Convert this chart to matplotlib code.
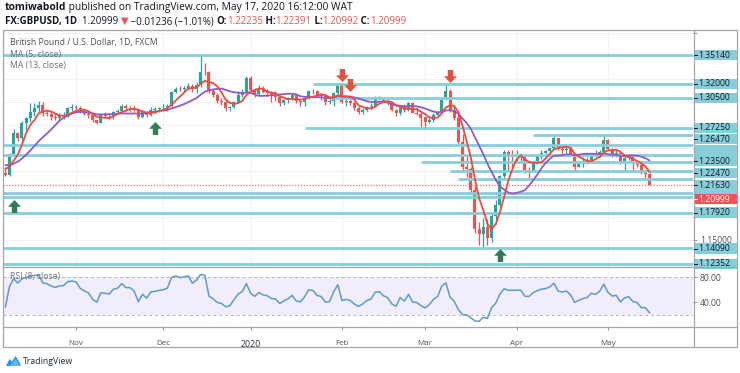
import numpy as np
import matplotlib
matplotlib.use("Agg")
import matplotlib.pyplot as plt
from matplotlib.path import Path
from matplotlib.patches import Rectangle, Polygon
from matplotlib.ticker import FuncFormatter

plt.rcParams['font.family'] = ['Open Sans', 'DejaVu Sans']

# ---------------- data ----------------
opens = [1.2230, 1.2212, 1.2440, 1.2667, 1.2612, 1.2770, 1.2825, 1.2890, 1.2935, 1.2970,
         1.2880, 1.2870, 1.2845, 1.2830, 1.2855, 1.2860, 1.2935, 1.2945, 1.2940, 1.2895,
         1.2875, 1.2860, 1.2805, 1.2775, 1.2860, 1.2855, 1.2850, 1.2895, 1.2905, 1.2960,
         1.2935, 1.2935, 1.2915, 1.2835, 1.2895, 1.2860, 1.2920, 1.2925, 1.2935, 1.2940,
         1.2955, 1.3115, 1.3150, 1.3140, 1.3160, 1.3180, 1.3140, 1.3190, 1.3335, 1.3325,
         1.3120, 1.3080, 1.3015, 1.3000, 1.2935, 1.2945, 1.3005, 1.3075, 1.3110, 1.3260,
         1.3135, 1.3085, 1.3150, 1.3115, 1.3105, 1.3065, 1.3060, 1.2995, 1.3020, 1.3040,
         1.3075, 1.3010, 1.3000, 1.3045, 1.3125, 1.3120, 1.3075, 1.3065, 1.3005, 1.3010,
         1.3100, 1.3205, 1.3000, 1.3015, 1.2995, 1.2935, 1.2890, 1.2915, 1.2950, 1.2965,
         1.3045, 1.3050, 1.3010, 1.2990, 1.2915, 1.2880, 1.2960, 1.2915, 1.2990, 1.2885,
         1.2875, 1.2835, 1.2780, 1.2810, 1.2860, 1.2890, 1.3045, 1.3120, 1.2915, 1.2830,
         1.2570, 1.2300, 1.2270, 1.2045, 1.1620, 1.1560, 1.1640, 1.1520, 1.1760, 1.1885,
         1.2200, 1.2460, 1.2410, 1.2405, 1.2410, 1.2415, 1.2265, 1.2255, 1.2355, 1.2410,
         1.2450, 1.2465, 1.2505, 1.2610, 1.2490, 1.2475, 1.2495, 1.2440, 1.2300, 1.2330,
         1.2355, 1.2370, 1.2430, 1.2415, 1.2460, 1.2590, 1.2490, 1.2435, 1.2445, 1.2340,
         1.2395, 1.2410, 1.2335, 1.2320, 1.2225, 1.22235]
highs = [1.2290, 1.2452, 1.2707, 1.2672, 1.2800, 1.2840, 1.2988, 1.2990, 1.3012, 1.3000,
         1.2920, 1.2900, 1.2880, 1.2880, 1.2895, 1.2950, 1.2976, 1.2975, 1.2955, 1.2930,
         1.2895, 1.2890, 1.2820, 1.2870, 1.2895, 1.2875, 1.2905, 1.2930, 1.2985, 1.2980,
         1.2965, 1.2975, 1.2935, 1.2900, 1.2905, 1.2945, 1.2945, 1.2950, 1.2985, 1.2980,
         1.3125, 1.3165, 1.3180, 1.3175, 1.3215, 1.3200, 1.3220, 1.3514, 1.3425, 1.3340,
         1.3145, 1.3105, 1.3050, 1.3020, 1.2965, 1.3010, 1.3120, 1.3145, 1.3285, 1.3285,
         1.3155, 1.3185, 1.3180, 1.3145, 1.3120, 1.3120, 1.3070, 1.3040, 1.3060, 1.3090,
         1.3090, 1.3025, 1.3055, 1.3135, 1.3150, 1.3130, 1.3100, 1.3075, 1.3050, 1.3110,
         1.3215, 1.3210, 1.3040, 1.3050, 1.3010, 1.2955, 1.2935, 1.2965, 1.2990, 1.3070,
         1.3070, 1.3060, 1.3020, 1.3000, 1.2930, 1.2975, 1.2980, 1.3005, 1.3005, 1.2950,
         1.2890, 1.2845, 1.2855, 1.2880, 1.2910, 1.3055, 1.3200, 1.3140, 1.2965, 1.2880,
         1.2650, 1.2420, 1.2300, 1.2090, 1.1700, 1.1740, 1.1730, 1.1790, 1.1940, 1.2210,
         1.2485, 1.2475, 1.2485, 1.2485, 1.2450, 1.2425, 1.2300, 1.2365, 1.2425, 1.2485,
         1.2480, 1.2515, 1.2647, 1.2615, 1.2530, 1.2520, 1.2510, 1.2445, 1.2360, 1.2405,
         1.2405, 1.2445, 1.2475, 1.2480, 1.2645, 1.2595, 1.2500, 1.2480, 1.2450, 1.2410,
         1.2430, 1.2415, 1.2375, 1.2345, 1.2265, 1.22391]
lows = [1.2196, 1.2200, 1.2415, 1.2580, 1.2584, 1.2700, 1.2780, 1.2850, 1.2880, 1.2850,
        1.2850, 1.2810, 1.2810, 1.2805, 1.2820, 1.2840, 1.2900, 1.2910, 1.2880, 1.2860,
        1.2830, 1.2790, 1.2765, 1.2770, 1.2835, 1.2815, 1.2820, 1.2870, 1.2890, 1.2910,
        1.2900, 1.2900, 1.2820, 1.2830, 1.2840, 1.2850, 1.2900, 1.2895, 1.2900, 1.2905,
        1.2950, 1.3100, 1.3120, 1.3120, 1.3145, 1.3110, 1.3100, 1.3170, 1.3300, 1.3105,
        1.3060, 1.2990, 1.2970, 1.2905, 1.2905, 1.2935, 1.2990, 1.3060, 1.3100, 1.3115,
        1.3055, 1.3075, 1.3100, 1.3070, 1.3000, 1.3010, 1.2960, 1.2975, 1.2995, 1.3020,
        1.2990, 1.2965, 1.2960, 1.3040, 1.3085, 1.3060, 1.3030, 1.2975, 1.2985, 1.2960,
        1.3080, 1.2990, 1.2960, 1.2975, 1.2920, 1.2870, 1.2870, 1.2900, 1.2930, 1.2950,
        1.3020, 1.3000, 1.2970, 1.2900, 1.2850, 1.2865, 1.2890, 1.2905, 1.2880, 1.2860,
        1.2725, 1.2735, 1.2770, 1.2790, 1.2840, 1.2880, 1.3030, 1.2895, 1.2810, 1.2520,
        1.2260, 1.2190, 1.2000, 1.1580, 1.1450, 1.1409, 1.1450, 1.1480, 1.1670, 1.1860,
        1.2160, 1.2240, 1.2290, 1.2345, 1.2345, 1.2235, 1.2165, 1.2240, 1.2330, 1.2380,
        1.2420, 1.2440, 1.2500, 1.2480, 1.2420, 1.2440, 1.2425, 1.2245, 1.2290, 1.2300,
        1.2330, 1.2355, 1.2400, 1.2405, 1.2445, 1.2475, 1.2400, 1.2405, 1.2325, 1.2265,
        1.2375, 1.2265, 1.2295, 1.2215, 1.2165, 1.20992]
closes = [1.2212, 1.2440, 1.2667, 1.2612, 1.2770, 1.2825, 1.2890, 1.2935, 1.2970, 1.2880,
          1.2870, 1.2845, 1.2830, 1.2855, 1.2860, 1.2935, 1.2945, 1.2940, 1.2895, 1.2875,
          1.2860, 1.2805, 1.2775, 1.2860, 1.2855, 1.2850, 1.2895, 1.2905, 1.2960, 1.2935,
          1.2935, 1.2915, 1.2835, 1.2895, 1.2860, 1.2920, 1.2925, 1.2935, 1.2940, 1.2955,
          1.3115, 1.3150, 1.3140, 1.3160, 1.3180, 1.3140, 1.3190, 1.3330, 1.3325, 1.3120,
          1.3080, 1.3015, 1.3000, 1.2935, 1.2945, 1.3005, 1.3075, 1.3110, 1.3260, 1.3135,
          1.3085, 1.3150, 1.3115, 1.3105, 1.3065, 1.3060, 1.2995, 1.3020, 1.3040, 1.3075,
          1.3010, 1.3000, 1.3045, 1.3125, 1.3120, 1.3075, 1.3065, 1.3005, 1.3010, 1.3100,
          1.3205, 1.3000, 1.3015, 1.2995, 1.2935, 1.2890, 1.2915, 1.2950, 1.2965, 1.3045,
          1.3050, 1.3010, 1.2990, 1.2915, 1.2880, 1.2960, 1.2915, 1.2990, 1.2885, 1.2875,
          1.2825, 1.2780, 1.2810, 1.2860, 1.2890, 1.3045, 1.3120, 1.2915, 1.2830, 1.2570,
          1.2290, 1.2270, 1.2040, 1.1620, 1.1560, 1.1640, 1.1520, 1.1760, 1.1885, 1.2200,
          1.2460, 1.2410, 1.2405, 1.2410, 1.2415, 1.2265, 1.2255, 1.2355, 1.2410, 1.2450,
          1.2465, 1.2505, 1.2610, 1.2490, 1.2475, 1.2495, 1.2440, 1.2300, 1.2330, 1.2355,
          1.2370, 1.2430, 1.2415, 1.2460, 1.2590, 1.2490, 1.2435, 1.2445, 1.2340, 1.2395,
          1.2410, 1.2335, 1.2320, 1.2225, 1.2224, 1.20999]
# closes before the first visible bar (needed for MA / RSI warm-up)
warmup_closes = [1.2335, 1.2335, 1.2500, 1.2410, 1.2495, 1.2475, 1.2500, 1.2475, 1.2435, 1.2470,
                 1.2320, 1.2335, 1.2290, 1.2290, 1.2290, 1.2300, 1.2330, 1.2330, 1.2290, 1.2210]

month_labels = ["Nov", "Dec", "2020", "Feb", "Mar", "Apr", "May"]
month_bars = [17, 38, 59, 81, 101, 123, 145]

level_prices = [1.35140, 1.32000, 1.30500, 1.27250, 1.26470, 1.25350, 1.24260,
                1.23500, 1.22470, 1.21630, 1.20150, 1.19650, 1.17920, 1.14090, 1.12352]
level_start_bars = [None, 74, 78, 72, 127, None, None, 100, 107, 109, None, None, None, None, None]
level_labels = ["1.35140", "1.32000", "1.30500", "1.27250", "1.26470", "", "",
                "1.23500", "1.22470", "1.21630", "", "", "1.17920", "1.14090", "1.12352"]

down_arrow_bars = [81, 83, 107]
down_arrow_prices = [1.3292, 1.3183, 1.3287]
up_arrow_bars = [2, 36, 119]
up_arrow_prices = [1.1865, 1.2725, 1.1337]

last_price = 1.20999
ma_fast, ma_slow, rsi_len = 5, 13, 8

# ---------------- layout (pixels) ----------------
W, H = 740, 373
PANE_L, PANE_R = 3, 693
MAIN_T, MAIN_B = 29.5, 266.5
RSI_T, RSI_B = 267.0, 326.5
FRAME_B, FRAME_R = 347.0, 737.0
# displayed y (px) of the price-axis label boxes, same order as level_prices
label_px = [55, 84, 98, 128, 139, 150, 155, 161, 173, 185, 192, 197, 212.5, 248.5, 264]
last_label_px = 199

GREEN = '#26a69a'
RED = '#ef5350'
LEVEL = '#86cfda'
TEXT = '#131722'
GRID = '#f0f3fa'


def fx(px):
    return px / W


def fy(py):
    return 1 - py / H


fig = plt.figure(figsize=(7.4, 3.73), dpi=100, facecolor='white')
ax = fig.add_axes([fx(PANE_L), fy(MAIN_B), fx(PANE_R) - fx(PANE_L), fy(MAIN_T) - fy(MAIN_B)])
axr = fig.add_axes([fx(PANE_L), fy(RSI_B), fx(PANE_R) - fx(PANE_L), fy(RSI_T) - fy(RSI_B)], sharex=ax)

o = np.array(opens); h = np.array(highs); l = np.array(lows); c = np.array(closes)
n = len(c)
x = np.arange(n)
xmin, xmax = -0.565, 165.46

# ---- indicators ----
allc = np.array(warmup_closes + closes)
nw = len(warmup_closes)


def sma(a, k):
    out = np.full(len(a), np.nan)
    cs = np.cumsum(np.insert(a, 0, 0.0))
    out[k - 1:] = (cs[k:] - cs[:-k]) / k
    return out


def rsi(a, k):
    d = np.diff(a)
    up = np.where(d > 0, d, 0.0)
    dn = np.where(d < 0, -d, 0.0)
    au = np.full(len(a), np.nan); ad = np.full(len(a), np.nan)
    au[k] = up[:k].mean(); ad[k] = dn[:k].mean()
    for i in range(k + 1, len(a)):
        au[i] = (au[i - 1] * (k - 1) + up[i - 1]) / k
        ad[i] = (ad[i - 1] * (k - 1) + dn[i - 1]) / k
    return 100 - 100 / (1 + au / ad)


ma5 = sma(allc, ma_fast)[nw:]
ma13 = sma(allc, ma_slow)[nw:]
rsi_v = rsi(allc, rsi_len)[nw:]

# ---------------- main pane ----------------
ax.set_xlim(xmin, xmax)
ax.set_ylim(1.1211, 1.3793)
ax.set_facecolor('white')
for s in ax.spines.values():
    s.set_visible(False)

grid_prices = np.arange(1.125, 1.3751, 0.025)
ax.set_yticks(grid_prices)
ax.yaxis.tick_right()
shown = {1.15}
ax.yaxis.set_major_formatter(FuncFormatter(
    lambda v, p: f"{v:.5f}" if any(abs(v - s) < 1e-6 for s in shown) else ""))
ax.tick_params(axis='y', length=3, color='#9598a1', labelsize=6.2, labelcolor='#4c525e', pad=2)
ax.set_xticks(month_bars)
ax.tick_params(axis='x', length=0, labelbottom=False)
ax.grid(True, color=GRID, lw=0.9, zorder=0)
ax.set_axisbelow(True)

# level lines
for p, sb in zip(level_prices, level_start_bars):
    start = xmin if sb is None else sb
    ax.hlines(p, start, xmax, color=LEVEL, lw=2.0, zorder=5)
ax.axhline(last_price, color=RED, lw=0.8, ls=(0, (1, 1.6)), zorder=5)

# candles
up = c >= o
col = np.where(up, GREEN, RED)
ax.vlines(x, l, h, colors=col, lw=0.9, zorder=3)
body_lo = np.minimum(o, c)
body_h = np.maximum(np.abs(c - o), 0.0005)
ax.bar(x, body_h, bottom=body_lo, width=0.72, color=col, lw=0, zorder=4)

# moving averages
ax.plot(x, ma13, color='#8a5cd2', lw=1.3, zorder=6, solid_capstyle='round')
ax.plot(x, ma5, color='#f0493e', lw=1.3, zorder=6, solid_capstyle='round')

# arrows
dverts = [(-0.21, 0.5), (0.21, 0.5), (0.21, 0.02), (0.5, 0.02), (0, -0.5), (-0.5, 0.02), (-0.21, 0.02), (-0.21, 0.5)]
dcodes = [Path.MOVETO] + [Path.LINETO] * 6 + [Path.CLOSEPOLY]
down_marker = Path(dverts, dcodes)
up_marker = Path([(vx, -vy) for vx, vy in dverts], dcodes)
ax.plot(down_arrow_bars, down_arrow_prices, ls='none', marker=down_marker, ms=9.3,
        color='#e4503c', mew=0, zorder=8, clip_on=False)
ax.plot(up_arrow_bars, up_arrow_prices, ls='none', marker=up_marker, ms=9.3,
        color='#2f7e52', mew=0, zorder=8, clip_on=False)

# ---------------- RSI pane ----------------
axr.set_ylim(1.8, 95.8)
axr.set_facecolor('white')
for s in axr.spines.values():
    s.set_visible(False)
axr.axhspan(20, 80, color='#f2edfb', zorder=0.5, lw=0)
axr.axhline(80, color='#b5b0c4', lw=0.7, ls=(0, (3, 3)), zorder=1)
axr.axhline(20, color='#b5b0c4', lw=0.7, ls=(0, (3, 3)), zorder=1)
axr.plot(x, rsi_v, color='#5a9bcf', lw=1.1, zorder=3)
axr.yaxis.tick_right()
axr.set_yticks([40, 80])
axr.set_yticklabels(['40.00', '80.00'])
axr.tick_params(axis='y', length=3, color='#9598a1', labelsize=6.2, labelcolor='#4c525e', pad=2)
axr.set_xticks(month_bars)
axr.set_xticklabels(month_labels)
axr.tick_params(axis='x', length=2.5, color='#9598a1', labelsize=5.8, labelcolor='#50535e', pad=7)
for t in axr.get_xticklabels():
    if t.get_text() == '2020':
        t.set_color('#2a2e39')
        t.set_fontsize(6.4)
axr.grid(True, axis='x', color=GRID, lw=0.9, zorder=0)
axr.set_axisbelow(True)

# ---------------- overlay (frame, labels, header) ----------------
ov = fig.add_axes([0, 0, 1, 1], zorder=10)
ov.set_xlim(0, W)
ov.set_ylim(H, 0)
ov.axis('off')

frame_c = '#a3a6af'
ov.add_patch(Rectangle((PANE_L, MAIN_T), FRAME_R - PANE_L, FRAME_B - MAIN_T, fill=False, ec=frame_c, lw=0.9))
ov.plot([PANE_R + 0.5, PANE_R + 0.5], [MAIN_T, FRAME_B], color=frame_c, lw=0.9)
ov.plot([PANE_L, FRAME_R], [MAIN_B + 0.3, MAIN_B + 0.3], color=frame_c, lw=0.9)
ov.plot([PANE_L, FRAME_R], [RSI_B, RSI_B], color=frame_c, lw=0.9)

BOX_L, BOX_R, BOX_H = PANE_R + 1, FRAME_R - 0.5, 10.6
# hidden (unlabelled) boxes first
for lab, py in zip(level_labels, label_px):
    if lab == "":
        ov.add_patch(Rectangle((BOX_L, py - BOX_H / 2), BOX_R - BOX_L, BOX_H, fc=LEVEL, ec='none'))
for lab, py in zip(level_labels, label_px):
    if lab != "":
        ov.add_patch(Rectangle((BOX_L, py - BOX_H / 2), BOX_R - BOX_L, BOX_H, fc=LEVEL, ec='none'))
        ov.plot([BOX_L, BOX_L + 3], [py, py], color=TEXT, lw=0.7)
        ov.text(BOX_L + 4.5, py, lab, fontsize=6.2, color=TEXT, va='center', ha='left')
ov.add_patch(Rectangle((BOX_L, last_label_px - BOX_H / 2), BOX_R - BOX_L, BOX_H, fc=RED, ec='none'))
ov.plot([BOX_L, BOX_L + 3], [last_label_px, last_label_px], color='white', lw=0.7)
ov.text(BOX_L + 4.5, last_label_px, f"{last_price:.5f}", fontsize=6.2, color='white', va='center', ha='left')

# pane legends
ov.text(10, 42.5, "British Pound / U.S. Dollar, 1D, FXCM", fontsize=6.2, color='#4a4e59', va='center')
ov.text(10, 54, "MA (5, close)", fontsize=6.2, color='#6a6d78', va='center')
ov.text(10, 65.5, "MA (13, close)", fontsize=6.2, color='#6a6d78', va='center')
ov.text(10, 276.5, "RSI (8, close)", fontsize=6.2, color='#6a6d78', va='center')

# header (sequential coloured text)
fig.canvas.draw()
rend = fig.canvas.get_renderer()


def seq(x0, y, parts, fs):
    xx = x0
    for s, colr, wt in parts:
        t = ov.text(xx, y, s, fontsize=fs, color=colr, fontweight=wt, va='center', ha='left')
        bb = t.get_window_extent(renderer=rend)
        xx += bb.width


seq(5, 7.5, [("tomiwabold", TEXT, 'bold'),
             (" published on TradingView.com, May 17, 2020 16:12:00 WAT", TEXT, 'normal')], 7.4)
seq(5, 21.5, [("FX:GBPUSD, 1D", TEXT, 'bold'),
              (f"  {last_price:.5f} ", TEXT, 'normal'),
              ("\u25bc", RED, 'normal'),
              (" \u22120.01236 (\u22121.01%) ", TEXT, 'normal'),
              ("O:", TEXT, 'bold'), (f"{opens[-1]:.5f}", RED, 'normal'),
              (" H:", TEXT, 'bold'), (f"{highs[-1]:.5f}", RED, 'normal'),
              (" L:", TEXT, 'bold'), (f"{lows[-1]:.5f}", RED, 'normal'),
              (" C:", TEXT, 'bold'), (f"{closes[-1]:.5f}", RED, 'normal')], 7.0)

# TradingView logo
ov.add_patch(Polygon([(6, 366), (9.5, 359), (12, 361.5), (15.5, 356), (20.5, 364), (20.5, 366)],
                     closed=True, fc='#2196f3', ec='none'))
ov.add_patch(Polygon([(10, 366), (15.5, 358.5), (20.5, 366)], closed=True, fc='#64b5f6', ec='none'))
ov.text(22.5, 361, "TradingView", fontsize=6.3, color='#1e2a3a', va='center', ha='left')

fig.savefig("out.png", dpi=100, facecolor='white')
